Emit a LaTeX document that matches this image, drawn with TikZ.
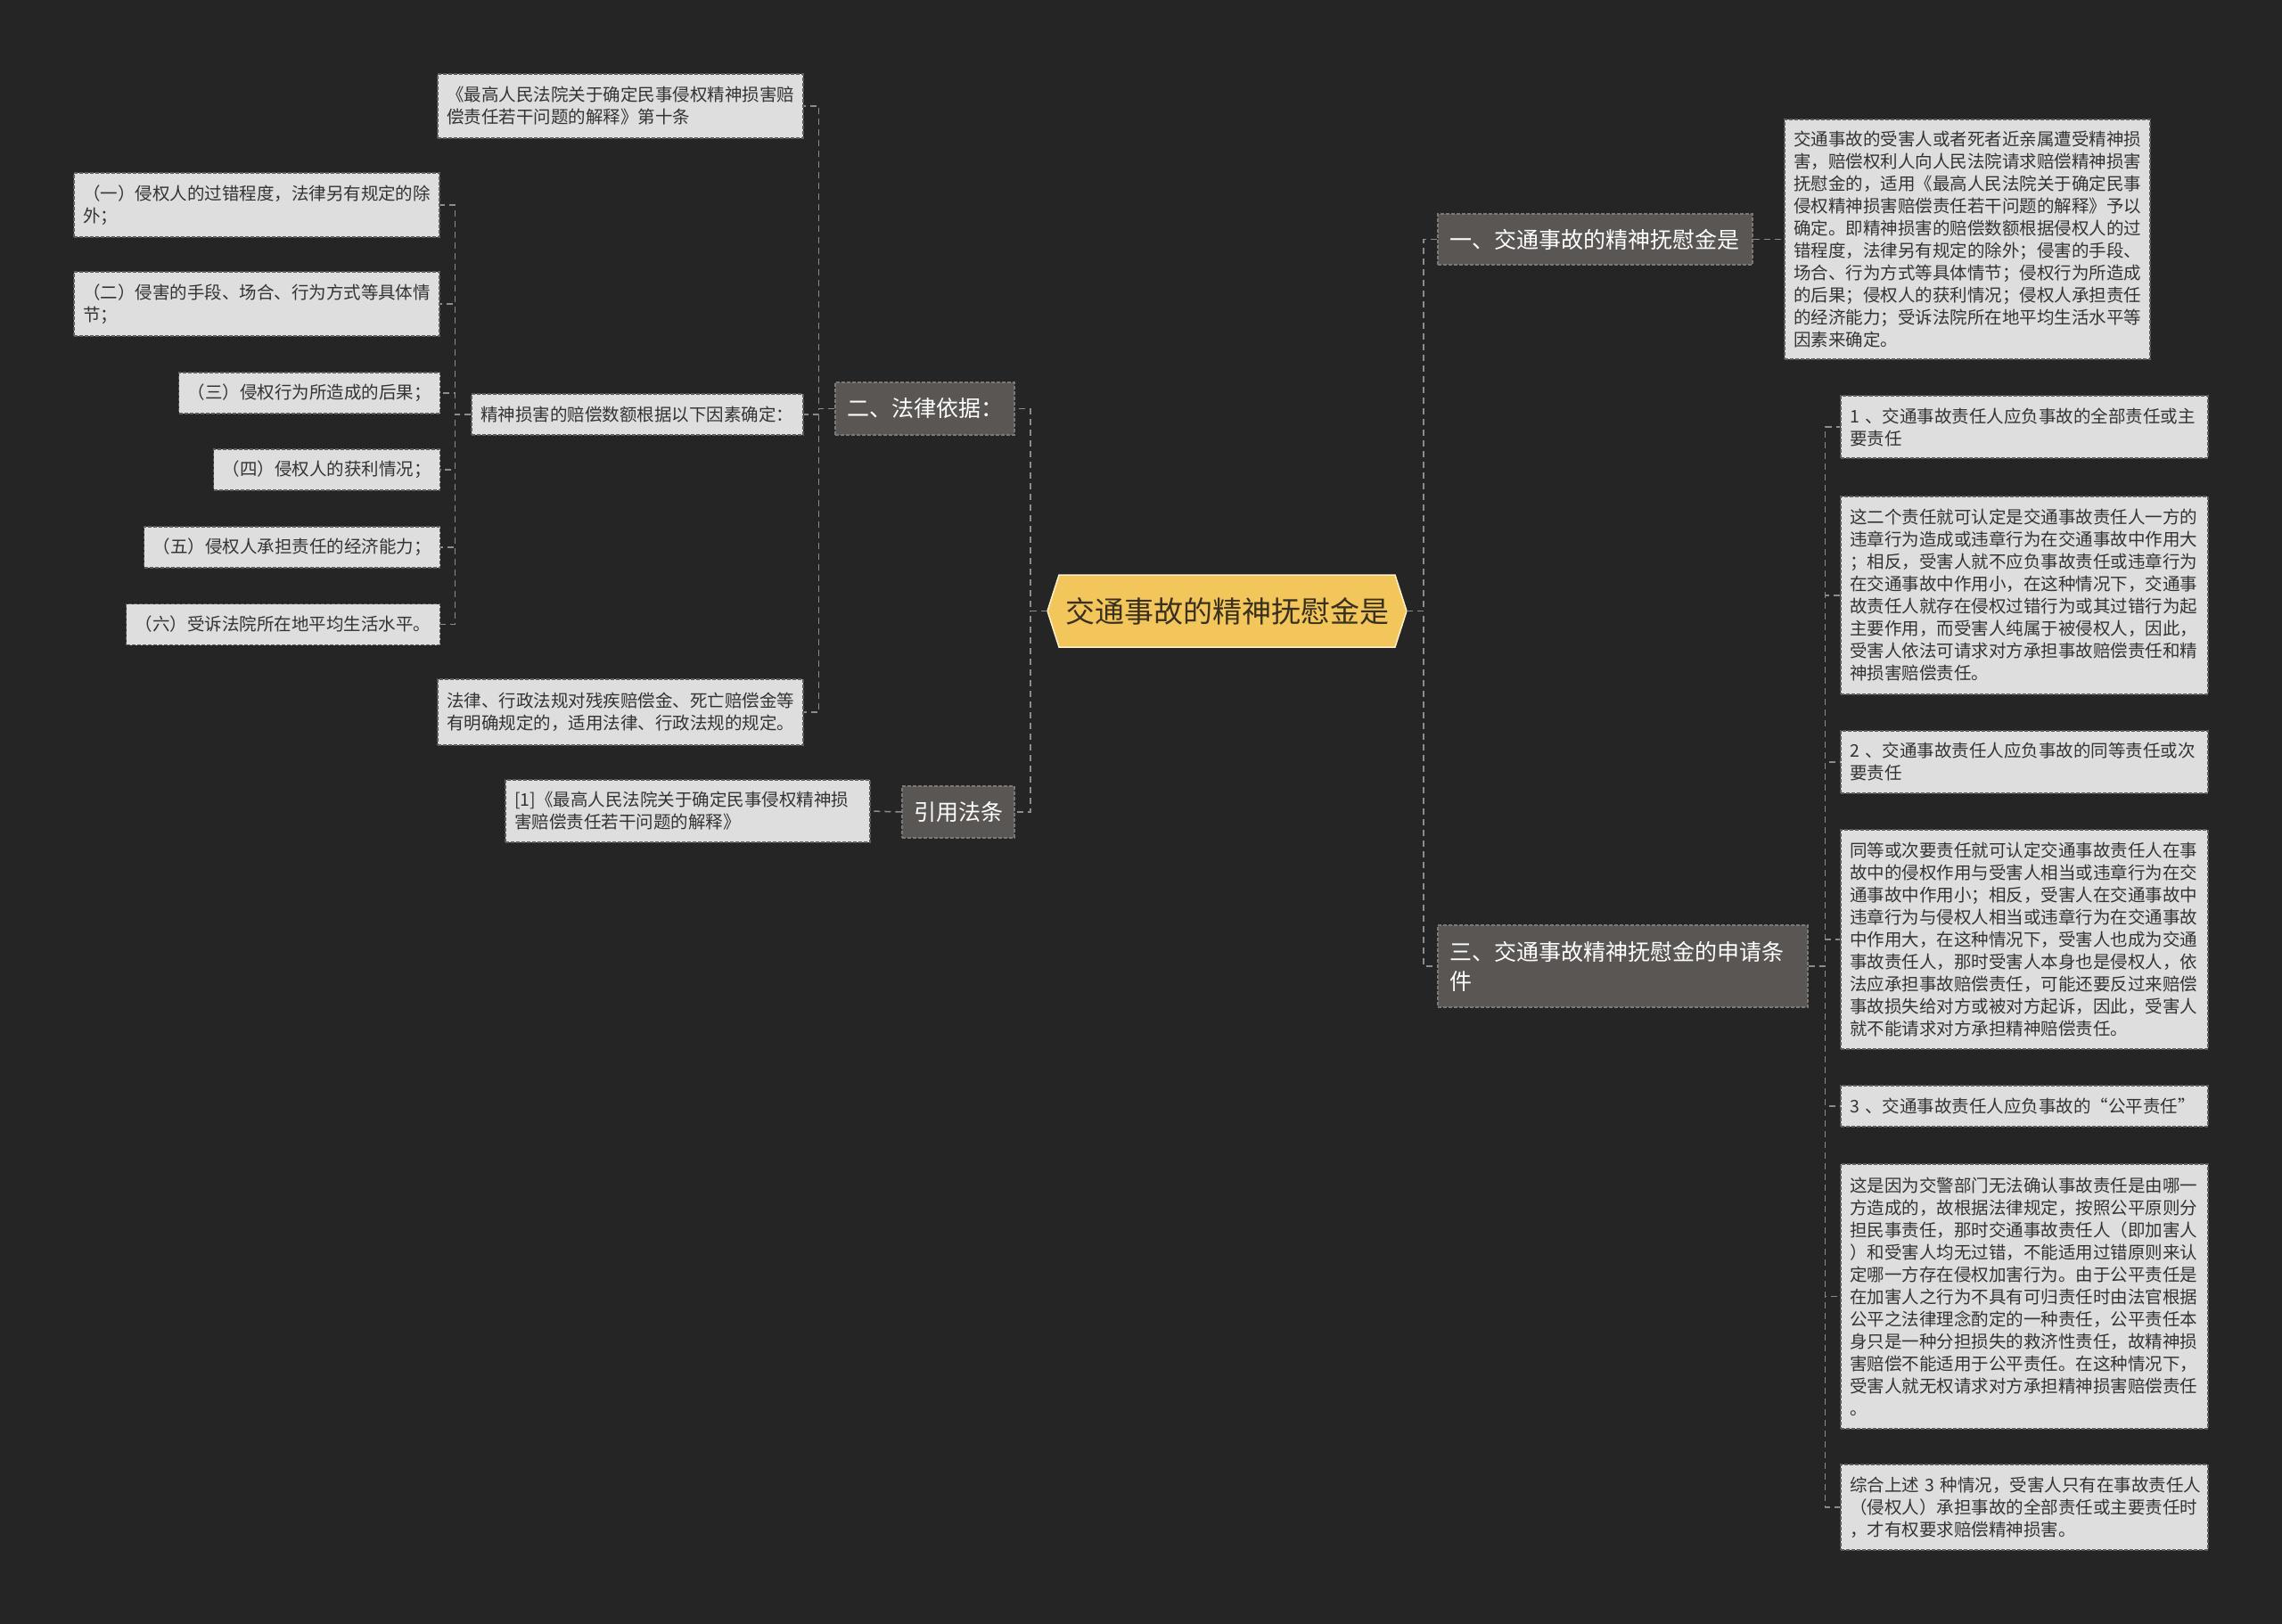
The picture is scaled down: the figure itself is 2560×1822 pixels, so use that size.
\documentclass[tikz,border=0pt]{standalone}
\usepackage{fontspec}
\setmainfont{Noto Sans CJK SC}
\definecolor{bg}{HTML}{252525}
\definecolor{leaffill}{HTML}{DEDEDE}
\definecolor{leafborder}{HTML}{5C5C5C}
\definecolor{leaftext}{HTML}{333333}
\definecolor{brfill}{HTML}{5A5654}
\definecolor{brborder}{HTML}{7C7876}
\definecolor{rootfill}{HTML}{F3C65C}
\definecolor{rootborder}{HTML}{FFF1CC}
\definecolor{roottext}{HTML}{3A3020}
\definecolor{conncolor}{HTML}{8C8C8C}
\tikzset{
  leaf/.style={draw=leafborder, fill=leaffill, line width=1.2pt, dash pattern=on 4pt off 2pt,
    text=leaftext, font=\fontsize{19.5}{25}\selectfont, align=left,
    inner xsep=10pt, inner ysep=0pt, anchor=center},
  branch/.style={draw=brborder, fill=brfill, line width=1.2pt, dash pattern=on 4pt off 2pt,
    text=white, font=\fontsize{25}{33}\selectfont, align=left,
    inner xsep=13pt, inner ysep=0pt, anchor=center},
  conn/.style={draw=conncolor, line width=1.5pt, dash pattern=on 7pt off 5pt}
}
\begin{document}
\begin{tikzpicture}[x=1pt,y=-1pt]
\fill[bg] (0,0) rectangle (2560,1822);
\useasboundingbox (0,0) rectangle (2560,1822);

% root
\filldraw[fill=rootfill, draw=rootborder, line width=1.5pt]
  (1175,685.5) -- (1188,645) -- (1565,645) -- (1578,685.5) -- (1565,726) -- (1188,726) -- cycle;
\node[text=roottext, font=\fontsize{33}{40}\selectfont, minimum width=403pt, minimum height=81pt, inner sep=0pt]
  (root) at (1376.5,685.5) {交通事故的精神抚慰金是};

% branches
\node[branch, text width=327pt, minimum height=57pt] (b1) at (1789.5,268.5) {一、交通事故的精神抚慰金是};
\node[branch, text width=175pt, minimum height=59pt] (b2) at (1037.5,458.5) {二、法律依据：};
\node[branch, text width=100pt, minimum height=58pt] (cite) at (1075,911) {引用法条};
\node[branch, text width=389pt, minimum height=92pt] (b3) at (1820.5,1084) {三、交通事故精神抚慰金的申请条\\件};

% branch 1 detail
\node[leaf, text width=390pt, minimum height=269pt] (d1) at (2207,268.5) {交通事故的受害人或者死者近亲属遭受精神损\\害，赔偿权利人向人民法院请求赔偿精神损害\\抚慰金的，适用《最高人民法院关于确定民事\\侵权精神损害赔偿责任若干问题的解释》予以\\确定。即精神损害的赔偿数额根据侵权人的过\\错程度，法律另有规定的除外；侵害的手段、\\场合、行为方式等具体情节；侵权行为所造成\\的后果；侵权人的获利情况；侵权人承担责任\\的经济能力；受诉法院所在地平均生活水平等\\因素来确定。};

% branch 2 children
\node[leaf, text width=390pt, minimum height=72pt] (lawten) at (696,119) {《最高人民法院关于确定民事侵权精神损害赔\\偿责任若干问题的解释》第十条};
\node[leaf, text width=352pt, minimum height=46pt] (factors) at (715,465) {精神损害的赔偿数额根据以下因素确定：};
\node[leaf, text width=390pt, minimum height=74pt] (other) at (696,799) {法律、行政法规对残疾赔偿金、死亡赔偿金等\\有明确规定的，适用法律、行政法规的规定。};

\node[leaf, text width=390pt, minimum height=72pt] (f1) at (288,230) {（一）侵权人的过错程度，法律另有规定的除\\外；};
\node[leaf, text width=390pt, minimum height=72pt] (f2) at (288,341) {（二）侵害的手段、场合、行为方式等具体情\\节；};
\node[leaf, text width=273pt, minimum height=46pt] (f3) at (347,441) {（三）侵权行为所造成的后果；};
\node[leaf, text width=234pt, minimum height=46pt] (f4) at (366.5,527) {（四）侵权人的获利情况；};
\node[leaf, text width=312pt, minimum height=46pt] (f5) at (327.5,614) {（五）侵权人承担责任的经济能力；};
\node[leaf, text width=332pt, minimum height=46pt] (f6) at (317.5,700.5) {（六）受诉法院所在地平均生活水平。};

% cite child
\node[leaf, text width=389pt, minimum height=70pt] (citeleaf) at (771.5,910) {[1]《最高人民法院关于确定民事侵权精神损\\害赔偿责任若干问题的解释》};

% branch 3 children
\node[leaf, text width=392pt, minimum height=70pt] (r1) at (2271,479) {1~、交通事故责任人应负事故的全部责任或主\\要责任};
\node[leaf, text width=392pt, minimum height=222pt] (r1d) at (2271,668) {这二个责任就可认定是交通事故责任人一方的\\违章行为造成或违章行为在交通事故中作用大\\；相反，受害人就不应负事故责任或违章行为\\在交通事故中作用小，在这种情况下，交通事\\故责任人就存在侵权过错行为或其过错行为起\\主要作用，而受害人纯属于被侵权人，因此，\\受害人依法可请求对方承担事故赔偿责任和精\\神损害赔偿责任。};
\node[leaf, text width=392pt, minimum height=70pt] (r2) at (2271,855) {2~、交通事故责任人应负事故的同等责任或次\\要责任};
\node[leaf, text width=392pt, minimum height=246pt] (r2d) at (2271,1054) {同等或次要责任就可认定交通事故责任人在事\\故中的侵权作用与受害人相当或违章行为在交\\通事故中作用小；相反，受害人在交通事故中\\违章行为与侵权人相当或违章行为在交通事故\\中作用大，在这种情况下，受害人也成为交通\\事故责任人，那时受害人本身也是侵权人，依\\法应承担事故赔偿责任，可能还要反过来赔偿\\事故损失给对方或被对方起诉，因此，受害人\\就不能请求对方承担精神赔偿责任。};
\node[leaf, text width=392pt, minimum height=46pt] (r3) at (2271,1241) {3~、交通事故责任人应负事故的“公平责任”};
\node[leaf, text width=392pt, minimum height=297pt] (r3d) at (2271,1454.5) {这是因为交警部门无法确认事故责任是由哪一\\方造成的，故根据法律规定，按照公平原则分\\担民事责任，那时交通事故责任人（即加害人\\）和受害人均无过错，不能适用过错原则来认\\定哪一方存在侵权加害行为。由于公平责任是\\在加害人之行为不具有可归责任时由法官根据\\公平之法律理念酌定的一种责任，公平责任本\\身只是一种分担损失的救济性责任，故精神损\\害赔偿不能适用于公平责任。在这种情况下，\\受害人就无权请求对方承担精神损害赔偿责任\\。};
\node[leaf, text width=392pt, minimum height=96pt] (r4) at (2271,1691) {综合上述~3~种情况，受害人只有在事故责任人\\（侵权人）承担事故的全部责任或主要责任时\\，才有权要求赔偿精神损害。};

% connectors
\draw[conn] (root.east) -- ++(19,0) |- (b1.west);
\draw[conn] (root.east) -- ++(19,0) |- (b3.west);
\draw[conn] (root.west) -- ++(-19,0) |- (b2.east);
\draw[conn] (root.west) -- ++(-19,0) |- (cite.east);
\draw[conn] (b1.east) -- (d1.west);
\draw[conn] (cite.west) -- (citeleaf.east);
\foreach \c in {lawten,factors,other}
  \draw[conn] (b2.west) -- ++(-18,0) |- (\c.east);
\foreach \c in {f1,f2,f3,f4,f5,f6}
  \draw[conn] (factors.west) -- ++(-18,0) |- (\c.east);
\foreach \c in {r1,r1d,r2,r2d,r3,r3d,r4}
  \draw[conn] (b3.east) -- ++(19,0) |- (\c.west);
\end{tikzpicture}
\end{document}
